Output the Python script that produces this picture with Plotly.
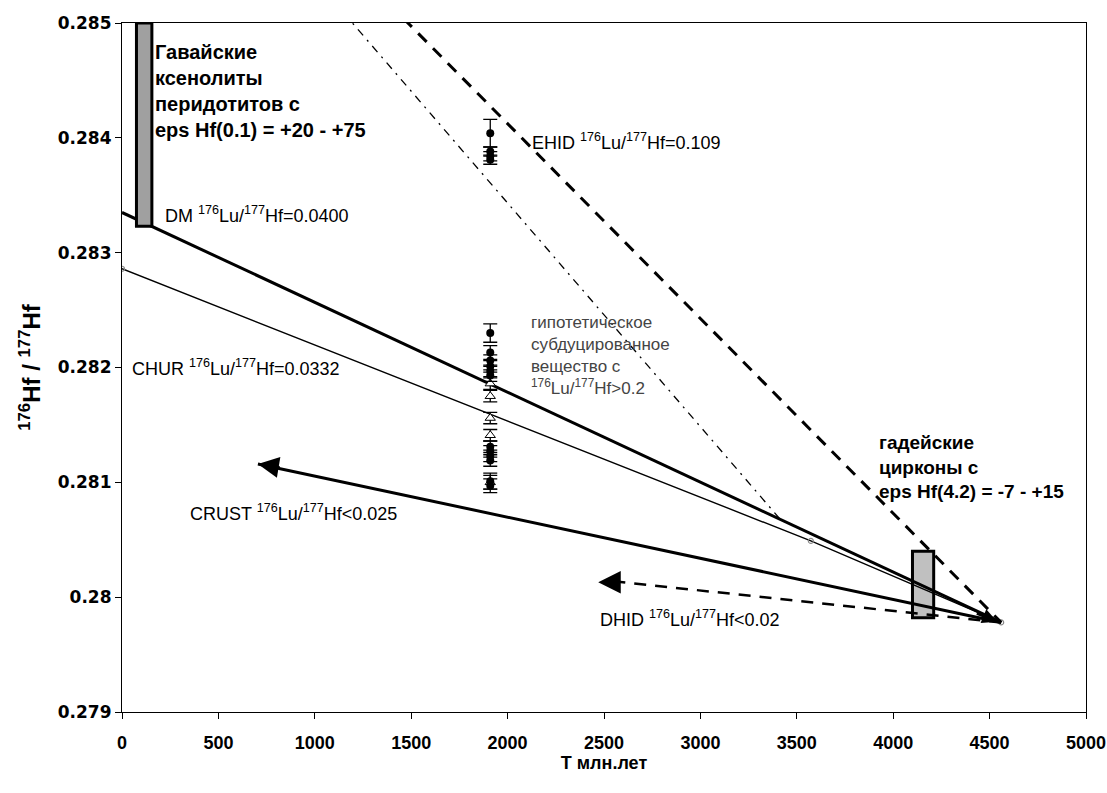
import plotly.graph_objects as go

# ---------------- data ----------------
T_CONV = 4560.0          # convergence point (Myr)
HF_CONV = 0.27978

# evolution lines
dm_T = [0, T_CONV]
dm_Hf = [0.28335, HF_CONV]

chur_T = [0, 3573, T_CONV]
chur_Hf = [0.28286, 0.28049, HF_CONV]

ehid_T = [1000, T_CONV]
ehid_Hf = [0.28582, HF_CONV]

subd_T = [1000, 3413]
subd_Hf = [0.28538, 0.28068]

crust_T = [T_CONV, 705]
crust_Hf = [HF_CONV, 0.28116]

dhid_T = [T_CONV, 2540]
dhid_Hf = [HF_CONV, 0.28014]
dhid_tip_T = 2470
dhid_tip_Hf = 0.28013

# zircon data at ~1.91 Ga
circ_T = [1910] * 16
circ_Hf = [0.28404, 0.28388, 0.28384, 0.28381, 0.28230, 0.28213, 0.28206, 0.28201,
           0.28197, 0.28193, 0.28131, 0.28127, 0.28123, 0.28119, 0.28101, 0.28097]
circ_err = [0.00012, 0.00004, 0.00004, 0.00004, 0.00008, 0.00006, 0.00005, 0.00005,
            0.00005, 0.00005, 0.00005, 0.00005, 0.00005, 0.00005, 0.00007, 0.00006]

tri_T = [1910] * 5
tri_Hf = [0.28186, 0.28175, 0.28156, 0.28141, 0.28100]
tri_err = [0.00005, 0.00005, 0.00005, 0.00005, 0.00006]

# boxes: (T0, T1, Hf0, Hf1)
hawaii_box = [75, 155, 0.28323, 0.28500]
hadean_box = [4100, 4210, 0.27982, 0.28040]

x_ticks = [0, 500, 1000, 1500, 2000, 2500, 3000, 3500, 4000, 4500, 5000]
x_tick_text = ["0", "500", "1000", "1500", "2000", "2500", "3000", "3500", "4000", "4500", "5000"]
y_ticks = [0.279, 0.280, 0.281, 0.282, 0.283, 0.284, 0.285]
y_tick_text = ["0.279", "0.28", "0.281", "0.282", "0.283", "0.284", "0.285"]

# ---------------- figure ----------------
fig = go.Figure()

fig.add_trace(go.Scatter(x=dm_T, y=dm_Hf, mode="lines",
                         line=dict(color="black", width=3), showlegend=False))
fig.add_trace(go.Scatter(x=chur_T, y=chur_Hf, mode="lines+markers",
                         line=dict(color="black", width=1.4),
                         marker=dict(symbol="circle-open", size=5, color="#888",
                                     line=dict(width=1.2, color="#888")),
                         showlegend=False))
fig.add_trace(go.Scatter(x=ehid_T, y=ehid_Hf, mode="lines",
                         line=dict(color="black", width=3, dash="12px,9px"),
                         showlegend=False))
fig.add_trace(go.Scatter(x=subd_T, y=subd_Hf, mode="lines",
                         line=dict(color="black", width=1.3, dash="8px,6px,2px,6px"),
                         showlegend=False))
fig.add_trace(go.Scatter(x=crust_T, y=crust_Hf, mode="lines",
                         line=dict(color="black", width=3), showlegend=False))
fig.add_trace(go.Scatter(x=dhid_T, y=dhid_Hf, mode="lines",
                         line=dict(color="black", width=2.5, dash="12px,9px"),
                         showlegend=False))

fig.add_trace(go.Scatter(x=tri_T, y=tri_Hf, mode="markers",
                         marker=dict(symbol="triangle-up", size=9, color="white",
                                     line=dict(color="black", width=1)),
                         error_y=dict(type="data", array=tri_err, color="black",
                                      thickness=1.3, width=7),
                         showlegend=False))
fig.add_trace(go.Scatter(x=circ_T, y=circ_Hf, mode="markers",
                         marker=dict(symbol="circle", size=8, color="black"),
                         error_y=dict(type="data", array=circ_err, color="black",
                                      thickness=1.3, width=7),
                         showlegend=False))

# boxes
fig.add_shape(type="rect", xref="x", yref="y",
              x0=hadean_box[0], x1=hadean_box[1], y0=hadean_box[2], y1=hadean_box[3],
              fillcolor="#c0c0c0", line=dict(color="black", width=3), layer="below")
fig.add_shape(type="rect", xref="x", yref="y",
              x0=hawaii_box[0], x1=hawaii_box[1], y0=hawaii_box[2], y1=hawaii_box[3],
              fillcolor="#a0a0a0", line=dict(color="black", width=3), layer="above")

# arrows
fig.add_annotation(x=crust_T[1], y=crust_Hf[1], ax=crust_T[1] + 120, ay=crust_Hf[1] - 0.0000335,
                   xref="x", yref="y", axref="x", ayref="y", text="", showarrow=True,
                   arrowhead=2, arrowsize=1.4, arrowwidth=3, arrowcolor="black")
fig.add_annotation(x=dhid_tip_T, y=dhid_tip_Hf, ax=dhid_tip_T + 120, ay=dhid_tip_Hf,
                   xref="x", yref="y", axref="x", ayref="y", text="", showarrow=True,
                   arrowhead=2, arrowsize=1.5, arrowwidth=3, arrowcolor="black")
fig.add_annotation(x=T_CONV - 20, y=HF_CONV + 0.000005, ax=-22, ay=-9,
                   xref="x", yref="y", text="", showarrow=True,
                   arrowhead=2, arrowsize=1.2, arrowwidth=2.5, arrowcolor="black")

FONT = "Liberation Sans, Arial, sans-serif"
labels = [
    (213, 0.28333, "DM <sup>176</sup>Lu/<sup>177</sup>Hf=0.0400"),
    (2116, 0.28397, "EHID <sup>176</sup>Lu/<sup>177</sup>Hf=0.109"),
    (41, 0.28200, "CHUR <sup>176</sup>Lu/<sup>177</sup>Hf=0.0332"),
    (342, 0.28074, "CRUST <sup>176</sup>Lu/<sup>177</sup>Hf&lt;0.025"),
    (2469, 0.27981, "DHID <sup>176</sup>Lu/<sup>177</sup>Hf&lt;0.02"),
]
for tx, ty, txt in labels:
    fig.add_annotation(x=tx, y=ty, xref="x", yref="y", text=txt, showarrow=False,
                       xanchor="left", yanchor="middle", align="left",
                       font=dict(family=FONT, size=18, color="black"))

fig.add_annotation(x=2111, y=0.28249, xref="x", yref="y",
                   text="гипотетическое<br>субдуцированное<br>вещество с<br><sup>176</sup>Lu/<sup>177</sup>Hf&gt;0.2",
                   showarrow=False, xanchor="left", yanchor="top", align="left",
                   font=dict(family=FONT, size=17, color="#444"))

fig.add_annotation(x=161, y=0.28486, xref="x", yref="y",
                   text="<b>Гавайские<br>ксенолиты<br>перидотитов с<br>eps Hf(0.1) = +20 - +75</b>",
                   showarrow=False, xanchor="left", yanchor="top", align="left",
                   font=dict(family=FONT, size=20, color="black"))

fig.add_annotation(x=3916, y=0.28146, xref="x", yref="y",
                   text="<b>гадейские<br>цирконы с<br>eps Hf(4.2) = -7 - +15</b>",
                   showarrow=False, xanchor="left", yanchor="top", align="left",
                   font=dict(family=FONT, size=19, color="black"))

fig.update_layout(
    width=1107, height=793,
    margin=dict(l=122, r=21, t=23, b=81),
    paper_bgcolor="white", plot_bgcolor="white",
    xaxis=dict(range=[0, 5000], tickmode="array", tickvals=x_ticks,
               ticktext=["<b>%s</b>" % t for t in x_tick_text],
               ticklabeloverflow="allow", ticklabelstandoff=8, automargin=False,
               showgrid=False, zeroline=False,
               showline=True, linecolor="black", linewidth=1.2, mirror=True,
               ticks="outside", ticklen=6, tickcolor="black",
               tickfont=dict(family="Liberation Sans", size=18, color="black"),
               title=dict(text="<b>T млн.лет</b>", font=dict(family=FONT, size=18, color="black"),
                          standoff=0)),
    yaxis=dict(range=[0.279, 0.285], tickmode="array", tickvals=y_ticks,
               ticktext=["<b>%s</b>" % t for t in y_tick_text],
               automargin=False,
               showgrid=False, zeroline=False,
               showline=True, linecolor="black", linewidth=1.2, mirror=True,
               ticks="outside", ticklen=6, tickcolor="black",
               tickfont=dict(family="DejaVu Sans, sans-serif", size=17, color="black"),
               title=dict(text="<b><sup>176</sup>Hf / <sup>177</sup>Hf</b>",
                          font=dict(family=FONT, size=24, color="black"), standoff=10)),
)

fig.write_html("out.html")
